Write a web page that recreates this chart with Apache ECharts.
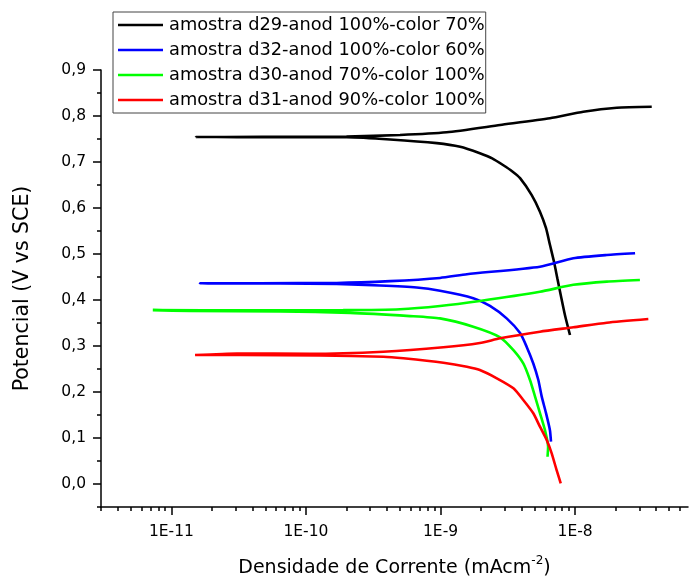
<!DOCTYPE html>
<html>
<head>
<meta charset="utf-8">
<script src="https://cdn.jsdelivr.net/npm/echarts@6/dist/echarts.min.js"></script>
<style>
html,body{margin:0;padding:0;background:#fff;}
#chart{width:689px;height:579px;}
</style>
</head>
<body>
<div id="chart"></div>
<script>
// ---- data (current density in mA/cm2, potential in V vs SCE) ----
const seriesNames = [
  'amostra d29-anod 100%-color 70%',
  'amostra d32-anod 100%-color 60%',
  'amostra d30-anod 70%-color 100%',
  'amostra d31-anod 90%-color 100%'
];
const seriesColors = ['#000000', '#0000ff', '#00ff00', '#ff0000'];

const d29Current = [9.16e-9, 8.41e-9, 7.82e-9, 7.38e-9, 6.97e-9, 6.50e-9, 6.08e-9, 5.48e-9, 4.76e-9, 3.90e-9, 3.40e-9, 2.93e-9, 2.42e-9, 1.96e-9, 1.40e-9, 9.38e-10, 4.22e-10, 2.01e-10, 9.04e-11, 3.85e-11, 1.52e-11, 2.5e-11, 9.0e-11, 2.0e-10, 5.0e-10, 1.11e-9, 2.77e-9, 6.5e-9, 1.15e-8, 2.04e-8, 3.71e-8];
const d29Potential = [0.324, 0.367, 0.411, 0.447, 0.483, 0.520, 0.556, 0.592, 0.628, 0.665, 0.680, 0.693, 0.708, 0.719, 0.733, 0.741, 0.749, 0.7537, 0.7539, 0.754, 0.7543, 0.7545, 0.7548, 0.7555, 0.7587, 0.7646, 0.7804, 0.795, 0.8093, 0.818, 0.820];

const d32Current = [6.62e-9, 6.50e-9, 6.08e-9, 5.65e-9, 5.33e-9, 4.89e-9, 4.37e-9, 3.90e-9, 3.10e-9, 2.33e-9, 1.75e-9, 9.91e-10, 6.65e-10, 3.55e-10, 1.69e-10, 6.43e-11, 1.63e-11, 4.56e-11, 1.69e-10, 4.22e-10, 9.91e-10, 1.57e-9, 5.48e-9, 9.70e-9, 1.72e-8, 2.79e-8];
const d32Potential = [0.092, 0.117, 0.154, 0.190, 0.226, 0.262, 0.298, 0.328, 0.360, 0.387, 0.404, 0.420, 0.427, 0.4315, 0.4348, 0.4359, 0.4363, 0.4365, 0.437, 0.441, 0.448, 0.456, 0.4724, 0.4907, 0.4978, 0.5015];

const d30Current = [6.24e-9, 6.30e-9, 5.97e-9, 5.48e-9, 5.04e-9, 4.62e-9, 4.12e-9, 3.48e-9, 2.77e-9, 1.75e-9, 9.91e-10, 5.93e-10, 2.13e-10, 6.43e-11, 1.38e-11, 7.28e-12, 3.85e-11, 1.89e-10, 5.00e-10, 9.91e-10, 1.96e-9, 5.48e-9, 9.70e-9, 1.72e-8, 3.03e-8];
const d30Potential = [0.0593, 0.081, 0.117, 0.154, 0.190, 0.226, 0.262, 0.291, 0.319, 0.342, 0.360, 0.365, 0.372, 0.375, 0.376, 0.378, 0.3776, 0.378, 0.380, 0.387, 0.398, 0.418, 0.433, 0.440, 0.4435];

const d31Current = [7.82e-9, 7.29e-9, 6.70e-9, 6.15e-9, 5.48e-9, 4.89e-9, 4.12e-9, 3.48e-9, 2.62e-9, 1.96e-9, 1.57e-9, 1.05e-9, 5.30e-10, 3.76e-10, 1.27e-10, 3.24e-11, 1.50e-11, 3.08e-11, 1.07e-10, 3.76e-10, 1.05e-9, 1.96e-9, 2.77e-9, 5.48e-9, 9.70e-9, 1.72e-8, 3.50e-8];
const d31Potential = [0.0015, 0.030, 0.0667, 0.0957, 0.1246, 0.1537, 0.1826, 0.208, 0.2298, 0.2478, 0.255, 0.2637, 0.2733, 0.2767, 0.2793, 0.2804, 0.2804, 0.2838, 0.2830, 0.2876, 0.2972, 0.3065, 0.3167, 0.3311, 0.3407, 0.3507, 0.3587];

// tick labels
const xTickExponents = [-11, -10, -9, -8];
const yTickValues = [0.0, 0.1, 0.2, 0.3, 0.4, 0.5, 0.6, 0.7, 0.8, 0.9];
const yMinorTickValues = [-0.05, 0.05, 0.15, 0.25, 0.35, 0.45, 0.55, 0.65, 0.75, 0.85];
const xRangeCurrent = [3e-12, 6.9e-8];
const yRange = [-0.05, 0.9];

// ---- build ----
const FONT = 'DejaVu Sans';
const currents = [d29Current, d32Current, d30Current, d31Current];
const potentials = [d29Potential, d32Potential, d30Potential, d31Potential];

const xMin = Math.log10(xRangeCurrent[0]);
const xMax = Math.log10(xRangeCurrent[1]);
const xMinorTicks = [];
for (let n = -12; n <= -8; n++) {
  for (let k = 2; k <= 9; k++) {
    const v = Math.log10(k) + n;
    if (v >= xMin - 1e-9 && v <= xMax + 1e-9) xMinorTicks.push(v);
  }
}

const series = seriesNames.map((name, i) => ({
  name: name,
  type: 'line',
  xAxisIndex: 0,
  yAxisIndex: 0,
  symbol: 'none',
  showSymbol: false,
  smooth: 0.2,
  animation: false,
  color: seriesColors[i],
  lineStyle: { color: seriesColors[i], width: 2.6 },
  data: currents[i].map((c, j) => [Math.log10(c), potentials[i][j]])
}));

const axisLineStyle = { show: true, onZero: false, lineStyle: { color: '#000', width: 1.5 } };

const option = {
  animation: false,
  backgroundColor: '#fff',
  textStyle: { fontFamily: FONT },
  grid: { left: 101, right: 1, top: 70, bottom: 72, containLabel: false, outerBoundsMode: 'none' },
  legend: {
    orient: 'vertical',
    left: 113,
    top: 12,
    padding: [3, 1, 3, 5],
    itemGap: 5,
    itemWidth: 45,
    itemHeight: 2.5,
    icon: 'rect',
    borderColor: '#444',
    borderWidth: 1,
    backgroundColor: '#fff',
    data: seriesNames,
    textStyle: { fontFamily: FONT, fontSize: 17.8, color: '#000', lineHeight: 20, padding: [0, 0, 0, 1] }
  },
  xAxis: [
    {
      type: 'value',
      position: 'bottom',
      min: xMin,
      max: xMax,
      name: 'Densidade de Corrente (mAcm{sup|-2})',
      nameLocation: 'middle',
      nameGap: 48,
      nameTextStyle: {
        fontFamily: FONT, fontSize: 19, color: '#000', lineHeight: 26,
        rich: { sup: { fontFamily: FONT, fontSize: 12, lineHeight: 12, verticalAlign: 'top', color: '#000' } }
      },
      axisLine: axisLineStyle,
      axisTick: { show: true, inside: false, length: 8, customValues: xTickExponents, lineStyle: { color: '#000', width: 1.5 } },
      axisLabel: {
        show: true, customValues: xTickExponents, margin: 17,
        fontFamily: FONT, fontSize: 15.5, color: '#000',
        formatter: v => '1E' + Math.round(v)
      },
      splitLine: { show: false }
    },
    {
      type: 'value',
      position: 'bottom',
      min: xMin,
      max: xMax,
      axisLine: { show: false, onZero: false },
      axisTick: { show: true, inside: false, length: 4, customValues: xMinorTicks, lineStyle: { color: '#000', width: 1.5 } },
      axisLabel: { show: false },
      splitLine: { show: false }
    }
  ],
  yAxis: [
    {
      type: 'value',
      position: 'left',
      min: yRange[0],
      max: yRange[1],
      name: 'Potencial (V vs SCE)',
      nameLocation: 'middle',
      nameGap: 68,
      nameRotate: 90,
      nameTextStyle: { fontFamily: FONT, fontSize: 20.5, color: '#000' },
      axisLine: axisLineStyle,
      axisTick: { show: true, inside: false, length: 8, customValues: yTickValues, lineStyle: { color: '#000', width: 1.5 } },
      axisLabel: {
        show: true, customValues: yTickValues, margin: 15,
        fontFamily: FONT, fontSize: 15.5, color: '#000',
        formatter: v => v.toFixed(1).replace('.', ',')
      },
      splitLine: { show: false }
    },
    {
      type: 'value',
      position: 'left',
      min: yRange[0],
      max: yRange[1],
      axisLine: { show: false, onZero: false },
      axisTick: { show: true, inside: false, length: 4, customValues: yMinorTickValues, lineStyle: { color: '#000', width: 1.5 } },
      axisLabel: { show: false },
      splitLine: { show: false }
    }
  ],
  series: series
};

const chart = echarts.init(document.getElementById('chart'), null, { renderer: 'canvas' });
chart.setOption(option);
</script>
</body>
</html>
